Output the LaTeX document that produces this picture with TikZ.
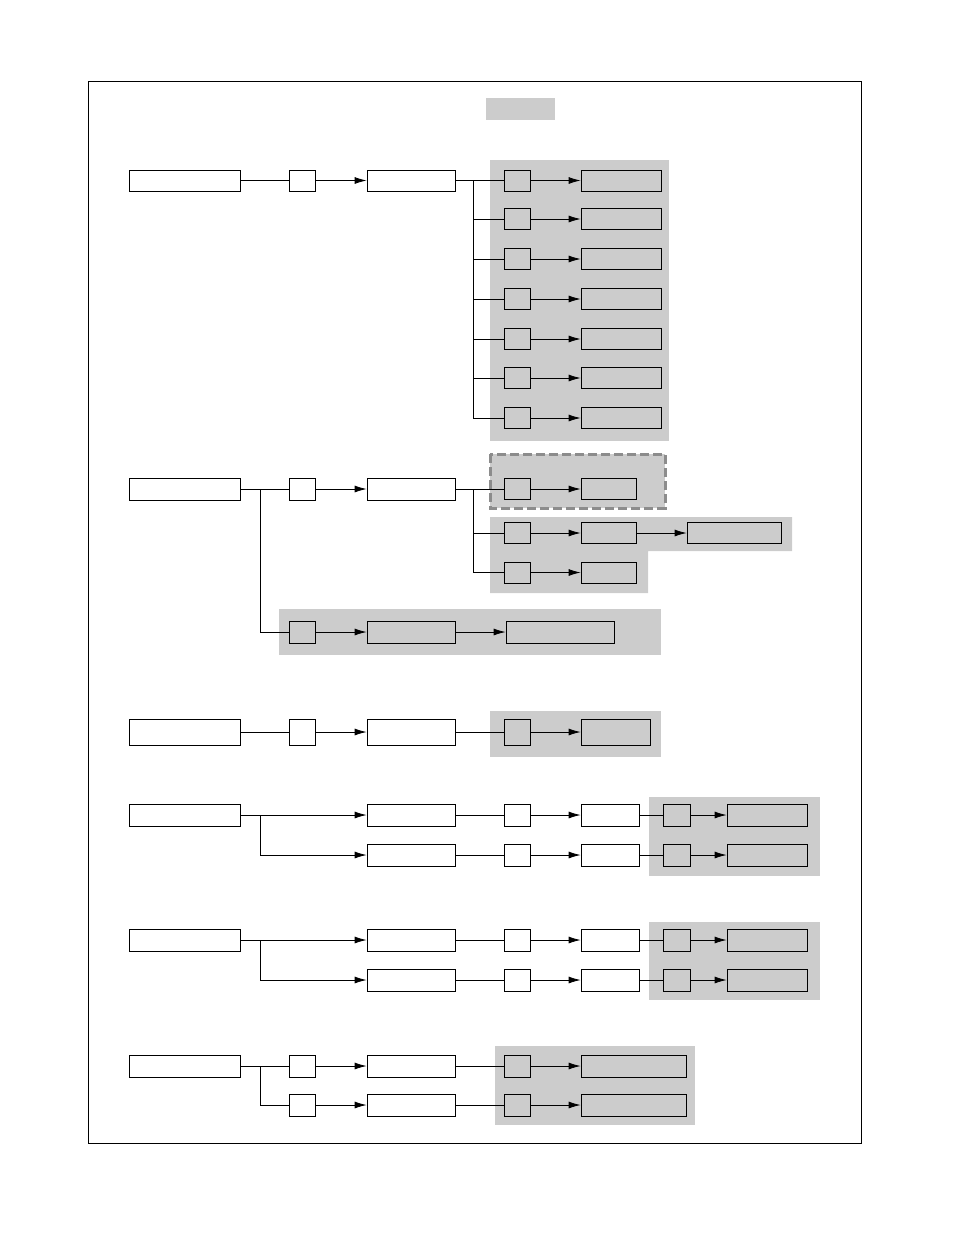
\documentclass[tikz,border=0pt]{standalone}
\usetikzlibrary{arrows.meta}
\tikzset{
  blk/.style={draw,line width=0.8pt,inner sep=0pt,minimum height=21pt},
  con/.style={line width=0.8pt},
  arr/.style={con,-{Latex[length=12pt,width=7pt]}}
}
\begin{document}
\begin{tikzpicture}[x=1pt,y=-1pt]
\useasboundingbox (0,0) rectangle (954,1235);
\draw[line width=0.7pt] (88,81) rectangle (861,1143);
\fill[black!20] (486,98) rectangle (555,120);
% shaded groups
\fill[black!20] (490,160) rectangle (669,441);
\filldraw[fill=black!20,draw=black!45,line width=3pt,dash pattern=on 9pt off 4pt] (490,454) rectangle (665,508);
\fill[black!20] (490,517) -- (792,517) -- (792,551) -- (648,551) -- (648,593) -- (490,593) -- cycle;
\fill[black!20] (279,609) rectangle (661,655);
\fill[black!20] (490,711) rectangle (661,757);
\fill[black!20] (649,797) rectangle (820,876);
\fill[black!20] (649,922) rectangle (820,1000);
\fill[black!20] (495,1046) rectangle (695,1125);

% first row
\node[blk,minimum width=111pt] (a1) at (184.5,180.5) {};
\node[blk,minimum width=26pt] (a1s) at (302,180.5) {};
\node[blk,minimum width=88pt] (a1m) at (411,180.5) {};
\draw[con] (a1) -- (a1s);
\draw[arr] (a1s) -- (a1m);
\coordinate (a1b) at (473,180.5);
\draw[con] (a1m) -- (a1b);
\foreach \i/\y in {1/180.5,2/219,3/259,4/299,5/339,6/378,7/418} {
  \node[blk,minimum width=26pt] (p\i) at (517,\y) {};
  \node[blk,minimum width=80pt] (q\i) at (621,\y) {};
  \draw[con] (a1b) |- (p\i);
  \draw[arr] (p\i) -- (q\i);
}

% second row
\node[blk,minimum width=111pt,minimum height=22pt] (b1) at (184.5,489) {};
\node[blk,minimum width=26pt,minimum height=22pt] (b1s) at (302,489) {};
\node[blk,minimum width=88pt,minimum height=22pt] (b1m) at (411,489) {};
\draw[con] (b1) -- (b1s);
\draw[arr] (b1s) -- (b1m);
\coordinate (b1b) at (473,489);
\draw[con] (b1m) -- (b1b);
\node[blk,minimum width=26pt] (p8) at (517,489) {};
\node[blk,minimum width=55pt] (q8) at (608.5,489) {};
\node[blk,minimum width=26pt] (p9) at (517,533) {};
\node[blk,minimum width=55pt] (q9) at (608.5,533) {};
\node[blk,minimum width=94pt] (r9) at (734,533) {};
\node[blk,minimum width=26pt] (p10) at (517,572.5) {};
\node[blk,minimum width=55pt] (q10) at (608.5,572.5) {};
\draw[con] (b1b) |- (p8);
\draw[con] (b1b) |- (p9);
\draw[con] (b1b) |- (p10);
\draw[arr] (p8) -- (q8);
\draw[arr] (p9) -- (q9);
\draw[arr] (q9) -- (r9);
\draw[arr] (p10) -- (q10);
\coordinate (b1a) at (260,489);
\node[blk,minimum width=26pt,minimum height=22pt] (b2s) at (302,632) {};
\node[blk,minimum width=88pt,minimum height=22pt] (b2m) at (411,632) {};
\node[blk,minimum width=108pt,minimum height=22pt] (b2r) at (560,632) {};
\draw[con] (b1a) |- (b2s);
\draw[arr] (b2s) -- (b2m);
\draw[arr] (b2m) -- (b2r);

% third row
\node[blk,minimum width=111pt,minimum height=26pt] (c1) at (184.5,732) {};
\node[blk,minimum width=26pt,minimum height=26pt] (c1s) at (302,732) {};
\node[blk,minimum width=88pt,minimum height=26pt] (c1m) at (411,732) {};
\node[blk,minimum width=26pt,minimum height=26pt] (p11) at (517,732) {};
\node[blk,minimum width=69pt,minimum height=26pt] (q11) at (615.5,732) {};
\draw[con] (c1) -- (c1s);
\draw[arr] (c1s) -- (c1m);
\draw[con] (c1m) -- (p11);
\draw[arr] (p11) -- (q11);

% fourth and fifth rows
\foreach \n/\y/\z in {d/815/855,e/940/980} {
  \node[blk,minimum width=111pt,minimum height=22pt] (\n0) at (184.5,\y) {};
  \coordinate (\n0b) at (260,\y);
  \foreach \k/\v in {1/\y,2/\z} {
    \node[blk,minimum width=88pt,minimum height=22pt] (\n\k m) at (411,\v) {};
    \node[blk,minimum width=26pt,minimum height=22pt] (\n\k s) at (517,\v) {};
    \node[blk,minimum width=58pt,minimum height=22pt] (\n\k r) at (610,\v) {};
    \node[blk,minimum width=27pt,minimum height=22pt] (\n\k p) at (676.5,\v) {};
    \node[blk,minimum width=80pt,minimum height=22pt] (\n\k q) at (767,\v) {};
    \draw[con] (\n\k m) -- (\n\k s);
    \draw[arr] (\n\k s) -- (\n\k r);
    \draw[con] (\n\k r) -- (\n\k p);
    \draw[arr] (\n\k p) -- (\n\k q);
  }
  \draw[arr] (\n0) -- (\n1m);
  \draw[arr] (\n0b) |- (\n2m);
}

% last row
\node[blk,minimum width=111pt,minimum height=22pt] (f0) at (184.5,1066) {};
\coordinate (f0b) at (260,1066);
\foreach \k/\v in {1/1066,2/1105} {
  \node[blk,minimum width=26pt,minimum height=22pt] (f\k s) at (302,\v) {};
  \node[blk,minimum width=88pt,minimum height=22pt] (f\k m) at (411,\v) {};
  \node[blk,minimum width=26pt,minimum height=22pt] (f\k p) at (517,\v) {};
  \node[blk,minimum width=105pt,minimum height=22pt] (f\k q) at (633.5,\v) {};
  \draw[arr] (f\k s) -- (f\k m);
  \draw[con] (f\k m) -- (f\k p);
  \draw[arr] (f\k p) -- (f\k q);
}
\draw[con] (f0) -- (f1s);
\draw[con] (f0b) |- (f2s);
\end{tikzpicture}
\end{document}
